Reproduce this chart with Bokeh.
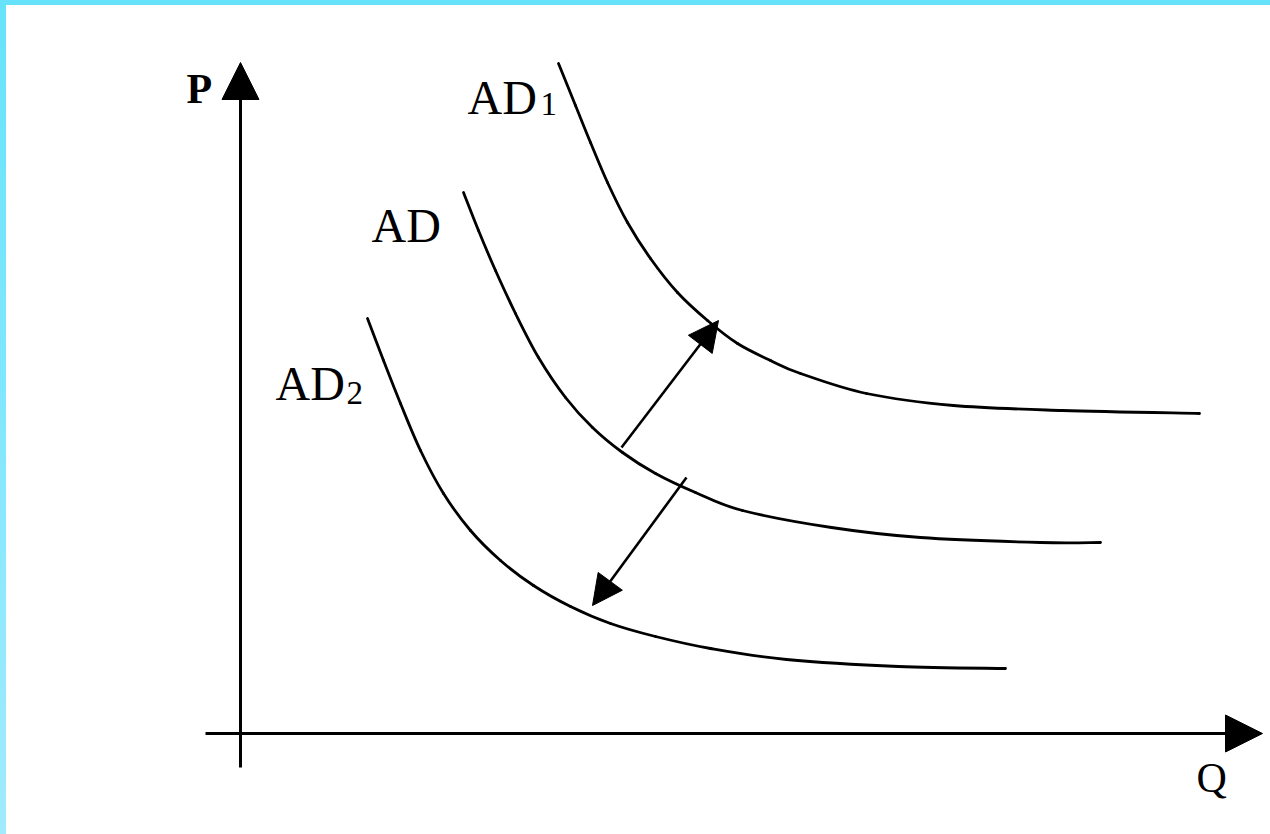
from bokeh.plotting import figure
from bokeh.models import Arrow, NormalHead, Range1d
from bokeh.core.properties import value
from bokeh.embed import file_html
from bokeh.resources import INLINE

# ---- data (Q, P) ----
ad1_q = [3.18, 3.35, 3.50, 3.67, 3.87, 4.10, 4.37, 4.67, 4.97, 5.30, 5.60, 6.26, 7.13, 8.22, 9.59]
ad1_p = [6.70, 6.28, 5.91, 5.51, 5.11, 4.75, 4.41, 4.13, 3.90, 3.73, 3.60, 3.40, 3.28, 3.23, 3.20]

ad_q = [2.23, 2.38, 2.55, 2.75, 2.98, 3.25, 3.52, 3.82, 4.15, 4.55, 5.02, 5.91, 6.80, 8.00, 8.60]
ad_p = [5.41, 5.03, 4.63, 4.20, 3.76, 3.36, 3.06, 2.81, 2.60, 2.41, 2.23, 2.06, 1.96, 1.91, 1.91]

ad2_q = [1.27, 1.43, 1.60, 1.80, 2.03, 2.30, 2.60, 2.93, 3.30, 3.70, 4.15, 4.70, 5.46, 6.58, 7.65]
ad2_p = [4.15, 3.73, 3.30, 2.83, 2.40, 2.03, 1.73, 1.48, 1.27, 1.10, 0.97, 0.85, 0.74, 0.67, 0.65]

# shift arrows: (start, end)
shift_up = [(3.81, 2.86), (4.78, 4.13)]
shift_down = [(4.46, 2.56), (3.52, 1.28)]

labels = ["AD", "AD", "AD"]
subs = ["1", "", "2"]
axis_labels = ["P", "Q"]

FONT = "Liberation Serif"

p = figure(width=1270, height=834, output_backend="svg", toolbar_location=None,
           x_range=Range1d(-2.34, 10.30), y_range=Range1d(-1.01, 7.28),
           min_border_left=6, min_border_top=5, min_border_right=0, min_border_bottom=0,
           background_fill_color="white", border_fill_color=None)
p.styles = {
    "background": ("linear-gradient(to bottom, #66e3fb, #a0ebfd) left top / 6px 100% no-repeat, "
                   "linear-gradient(#66e3fb, #66e3fb) left top / 100% 5px no-repeat, white")
}
p.xaxis.visible = False
p.yaxis.visible = False
p.grid.visible = False
p.outline_line_color = None


def smooth(qs, ps):
    """Catmull-Rom segments through the read points, drawn as Bezier curves."""
    n = len(qs)
    x0, y0, x1, y1, cx0, cy0, cx1, cy1 = [], [], [], [], [], [], [], []
    for i in range(n - 1):
        a = max(i - 1, 0)
        d = min(i + 2, n - 1)
        x0.append(qs[i]); y0.append(ps[i])
        x1.append(qs[i + 1]); y1.append(ps[i + 1])
        cx0.append(qs[i] + (qs[i + 1] - qs[a]) / 6.0)
        cy0.append(ps[i] + (ps[i + 1] - ps[a]) / 6.0)
        cx1.append(qs[i + 1] - (qs[d] - qs[i]) / 6.0)
        cy1.append(ps[i + 1] - (ps[d] - ps[i]) / 6.0)
    return dict(x0=x0, y0=y0, x1=x1, y1=y1, cx0=cx0, cy0=cy0, cx1=cx1, cy1=cy1)


for qs, ps in [(ad1_q, ad1_p), (ad_q, ad_p), (ad2_q, ad2_p)]:
    p.bezier(**smooth(qs, ps), line_color="black", line_width=2.8, line_cap="round")

# axes with arrows
p.segment(x0=[0], y0=[-0.34], x1=[0], y1=[6.45], line_color="black", line_width=3)
p.segment(x0=[-0.35], y0=[0], x1=[9.95], y1=[0], line_color="black", line_width=3)
p.add_layout(Arrow(end=NormalHead(size=37, fill_color="black", line_color="black"),
                   x_start=0, y_start=6.0, x_end=0, y_end=6.71,
                   line_color="black", line_width=3))
p.add_layout(Arrow(end=NormalHead(size=37, fill_color="black", line_color="black"),
                   x_start=9.5, y_start=0, x_end=10.22, y_end=0,
                   line_color="black", line_width=3))

# shift arrows
for (xs, ys), (xe, ye) in [shift_up, shift_down]:
    p.add_layout(Arrow(end=NormalHead(size=30, fill_color="black", line_color="black"),
                       x_start=xs, y_start=ys, x_end=xe, y_end=ye,
                       line_color="black", line_width=2.6))

# labels
lab_x = [2.27, 1.31, 0.35]
lab_y = [6.36, 5.08, 3.50]
sub_x = [3.00, 0, 1.06]
sub_y = [6.30, 0, 3.41]
p.text(x=lab_x, y=lab_y, text=labels, text_font=value(FONT), text_font_size="48px",
       text_color="black", text_baseline="alphabetic", text_align="left")
sx = [sub_x[i] for i in range(3) if subs[i]]
sy = [sub_y[i] for i in range(3) if subs[i]]
st = [s for s in subs if s]
p.text(x=sx, y=sy, text=st, text_font=value(FONT), text_font_size="33px",
       text_color="black", text_baseline="alphabetic", text_align="left")

p.text(x=[-0.54], y=[6.45], text=[axis_labels[0]], text_font=value(FONT), text_font_size="42px",
       text_font_style="bold", text_color="black", text_baseline="alphabetic", text_align="left")
p.text(x=[9.56], y=[-0.44], text=[axis_labels[1]], text_font=value(FONT), text_font_size="42px",
       text_color="black", text_baseline="alphabetic", text_align="left")

open("out.html", "w").write(file_html(p, INLINE))
